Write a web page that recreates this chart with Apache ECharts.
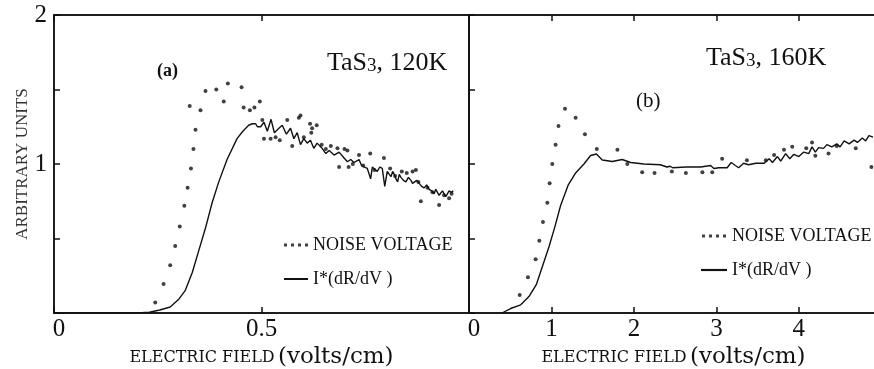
<!DOCTYPE html>
<html>
<head>
<meta charset="utf-8">
<script src="https://cdn.jsdelivr.net/npm/echarts@6/dist/echarts.min.js"></script>
<style>
  html, body { margin: 0; padding: 0; background: #fff; }
  #chart { width: 874px; height: 369px; }
</style>
</head>
<body>
<div id="chart"></div>
<script>
// panel (a): TaS3 at 120K, field in volts/cm
const lineA = [
  [0, 0], [0.2, 0], [0.23, 0.005], [0.255, 0.02], [0.28, 0.04], [0.30, 0.09], [0.316, 0.15],
  [0.333, 0.27], [0.349, 0.42], [0.365, 0.57], [0.381, 0.74], [0.397, 0.88], [0.417, 1.03],
  [0.441, 1.17], [0.455, 1.22], [0.469, 1.26], [0.478, 1.27], [0.486, 1.27], [0.49, 1.25],
  [0.498, 1.25], [0.506, 1.28], [0.514, 1.22], [0.523, 1.30], [0.531, 1.21], [0.542, 1.24],
  [0.55, 1.26], [0.56, 1.20], [0.57, 1.24], [0.578, 1.17], [0.586, 1.21], [0.594, 1.13],
  [0.602, 1.17], [0.61, 1.14], [0.618, 1.16], [0.626, 1.105], [0.634, 1.14], [0.646, 1.105],
  [0.655, 1.07], [0.663, 1.09], [0.675, 1.06], [0.687, 1.08], [0.699, 1.04], [0.707, 1.015],
  [0.715, 1.03], [0.723, 1.01], [0.735, 1.03], [0.741, 0.99], [0.747, 0.98], [0.755, 0.97],
  [0.763, 0.90], [0.767, 0.98], [0.771, 0.99], [0.779, 0.95], [0.785, 0.98], [0.791, 0.97],
  [0.797, 0.85], [0.803, 0.95], [0.808, 0.93], [0.812, 0.915], [0.816, 0.95], [0.82, 0.93],
  [0.824, 0.90], [0.828, 0.88], [0.832, 0.93], [0.836, 0.91], [0.842, 0.89], [0.848, 0.88],
  [0.854, 0.91], [0.86, 0.89], [0.864, 0.87], [0.868, 0.86], [0.874, 0.89], [0.88, 0.87],
  [0.886, 0.85], [0.892, 0.84], [0.898, 0.86], [0.904, 0.83], [0.91, 0.82], [0.916, 0.80],
  [0.92, 0.83], [0.924, 0.82], [0.928, 0.79], [0.932, 0.79], [0.936, 0.82], [0.94, 0.81],
  [0.944, 0.78], [0.948, 0.79], [0.952, 0.82], [0.957, 0.81], [0.962, 0.82]
];
const noiseA = [
  [0.244, 0.07], [0.264, 0.195], [0.28, 0.32], [0.292, 0.45], [0.303, 0.58], [0.314, 0.72],
  [0.322, 0.84], [0.33, 0.97], [0.336, 1.10], [0.341, 1.23], [0.327, 1.39], [0.353, 1.36],
  [0.365, 1.49], [0.391, 1.50], [0.409, 1.42], [0.419, 1.54], [0.452, 1.515], [0.457, 1.38],
  [0.472, 1.36], [0.483, 1.38], [0.496, 1.42], [0.502, 1.295], [0.506, 1.17], [0.522, 1.17],
  [0.534, 1.18], [0.544, 1.16], [0.562, 1.295], [0.574, 1.12], [0.59, 1.31], [0.594, 1.325],
  [0.602, 1.18], [0.617, 1.27], [0.62, 1.21], [0.622, 1.24], [0.633, 1.26], [0.645, 1.13],
  [0.655, 1.10], [0.667, 1.12], [0.683, 1.105], [0.687, 0.98], [0.7, 1.10], [0.707, 1.09],
  [0.71, 0.98], [0.72, 1.0], [0.735, 1.06], [0.745, 0.99], [0.762, 1.07], [0.772, 0.96],
  [0.795, 1.04], [0.81, 0.97], [0.822, 0.92], [0.838, 0.95], [0.85, 0.94], [0.864, 0.95],
  [0.872, 0.96], [0.878, 0.88], [0.884, 0.75], [0.9, 0.84], [0.912, 0.81], [0.928, 0.725],
  [0.94, 0.79], [0.952, 0.77], [0.958, 0.8]
];

// panel (b): TaS3 at 160K
const lineB = [
  [0.4, 0], [0.424, 0.01], [0.505, 0.03], [0.627, 0.055], [0.727, 0.11], [0.816, 0.19],
  [0.889, 0.31], [0.97, 0.445], [1.042, 0.58], [1.11, 0.72], [1.204, 0.86], [1.293, 0.94],
  [1.394, 1.0], [1.475, 1.057], [1.545, 1.067], [1.616, 1.027], [1.737, 1.017], [1.858, 1.03],
  [1.96, 1.01], [2.12, 1.0], [2.32, 0.995], [2.40, 0.98], [2.44, 0.985], [2.47, 0.975],
  [2.63, 0.98], [2.81, 0.98], [2.93, 0.99], [2.97, 0.97], [3.03, 0.975], [3.13, 0.975],
  [3.18, 1.01], [3.23, 0.99], [3.27, 0.975], [3.33, 1.005], [3.39, 0.995], [3.48, 1.005],
  [3.58, 1.005], [3.64, 1.035], [3.68, 1.01], [3.74, 1.05], [3.78, 1.02], [3.84, 1.07],
  [3.89, 1.035], [3.94, 1.065], [4.0, 1.05], [4.06, 1.08], [4.12, 1.07], [4.16, 1.115],
  [4.2, 1.08], [4.24, 1.11], [4.30, 1.105], [4.34, 1.13], [4.40, 1.115], [4.46, 1.135],
  [4.50, 1.115], [4.55, 1.155], [4.61, 1.135], [4.67, 1.16], [4.71, 1.145], [4.77, 1.175],
  [4.81, 1.155], [4.85, 1.19], [4.9, 1.18]
];
const noiseB = [
  [0.615, 0.12], [0.715, 0.24], [0.808, 0.36], [0.853, 0.485], [0.897, 0.61], [0.95, 0.74],
  [0.978, 0.87], [1.01, 1.0], [1.05, 1.13], [1.085, 1.255], [1.164, 1.37], [1.293, 1.31],
  [1.406, 1.20], [1.55, 1.10], [1.8, 1.095], [1.92, 1.0], [2.1, 0.945], [2.25, 0.94],
  [2.46, 0.95], [2.63, 0.94], [2.83, 0.945], [2.95, 0.945], [3.07, 1.035], [3.37, 1.025],
  [3.6, 1.025], [3.70, 1.06], [3.82, 1.095], [3.92, 1.115], [4.09, 1.105], [4.16, 1.145],
  [4.2, 1.055], [4.36, 1.07], [4.46, 1.12], [4.69, 1.105], [4.88, 0.98]
];

const NOISE = 'NOISE VOLTAGE';
const DERIV = 'I*(dR/dV )';

const serif = 'Liberation Serif';
const wide = 'DejaVu Serif';
const ink = '#111';
const axisLine = { show: true, onZero: false, lineStyle: { color: ink, width: 1.5 } };
const tickIn = { show: true, inside: true, length: 6, lineStyle: { color: ink, width: 1.5 } };
const dotsIcon = 'path://M0,0h3v3h-3zM7,0h3v3h-3zM14,0h3v3h-3zM21,0h3v3h-3z';
const lineIcon = 'path://M0,0h24v2h-24z';

const xName = {
  name: '{a|ELECTRIC FIELD} {b|(volts/cm)}',
  nameLocation: 'middle',
  nameGap: 33,
  nameMoveOverlap: false,
  nameTextStyle: {
    rich: {
      a: { fontFamily: wide, fontSize: 16, color: ink },
      b: { fontFamily: wide, fontSize: 23, color: ink }
    }
  }
};

function bottomX(grid, max, interval, fmt) {
  return Object.assign({
    type: 'value', gridIndex: grid, position: 'bottom', min: 0, max: max, interval: interval,
    axisLine: axisLine, axisTick: tickIn, splitLine: { show: false },
    axisLabel: {
      fontFamily: serif, fontSize: 25, color: ink, margin: 4, formatter: fmt,
      rich: { z: { fontFamily: serif, fontSize: 25, color: ink, padding: [0, 0, 0, 10] } }
    }
  }, xName);
}

function topX(grid, max, interval) {
  return {
    type: 'value', gridIndex: grid, position: 'top', min: 0, max: max, interval: interval,
    axisLine: axisLine, axisTick: tickIn, axisLabel: { show: false }, splitLine: { show: false }
  };
}

function leftY(grid, labels) {
  return {
    type: 'value', gridIndex: grid, min: 0, max: 2, interval: 0.5,
    axisLine: axisLine, axisTick: tickIn, splitLine: { show: false },
    name: labels ? 'ARBITRARY UNITS' : '',
    nameLocation: 'middle', nameGap: 23,
    nameTextStyle: { fontFamily: serif, fontSize: 17, color: '#333' },
    axisLabel: {
      show: labels, fontFamily: serif, fontSize: 25, color: ink, margin: 7,
      formatter: v => (v === 1 || v === 2) ? String(v) : ''
    }
  };
}

const tasStyle = {
  rich: {
    t: { fontFamily: serif, fontSize: 26, fontWeight: 'normal', color: ink },
    s: { fontFamily: serif, fontSize: 19, fontWeight: 'normal', color: ink, verticalAlign: 'bottom' }
  }
};

const frame = { show: true, borderColor: ink, borderWidth: 1.5, backgroundColor: 'transparent', outerBoundsMode: 'none' };

const chart = echarts.init(document.getElementById('chart'));

chart.setOption({
  backgroundColor: '#fff',
  animation: false,
  grid: [
    Object.assign({ left: 54, top: 15, width: 415, height: 298 }, frame),
    Object.assign({ left: 469, top: 15, right: -4, height: 298 }, frame)
  ],
  xAxis: [
    bottomX(0, 1, 0.5, v => v === 0 ? '{z|0}' : (v === 0.5 ? '0.5' : '')),
    topX(0, 1, 0.5),
    bottomX(1, 4.96, 1, v => v === 0 ? '{z|0}' : (Number.isInteger(v) ? String(v) : '')),
    topX(1, 4.96, 1)
  ],
  yAxis: [leftY(0, true), leftY(1, false)],
  title: [
    { text: '{t|TaS}{s|3}{t|, 120K}', left: 322, top: 45, textStyle: tasStyle },
    { text: '{t|TaS}{s|3}{t|, 160K}', left: 701, top: 40, textStyle: tasStyle },
    { text: '(a)', left: 152, top: 57, textStyle: { fontFamily: serif, fontSize: 18, fontWeight: 'bold', color: ink } },
    { text: '(b)', left: 631, top: 86, textStyle: { fontFamily: serif, fontSize: 21, fontWeight: 'normal', color: ink } }
  ],
  legend: [
    {
      left: 279, top: 231, orient: 'vertical', itemGap: 16, itemWidth: 24, itemHeight: 3,
      selectedMode: false, textStyle: { fontFamily: serif, fontSize: 18, color: ink },
      data: [{ name: NOISE, icon: dotsIcon }, { name: DERIV, icon: lineIcon }]
    },
    {
      left: 696, top: 222, orient: 'vertical', itemGap: 16, itemWidth: 26, itemHeight: 3,
      selectedMode: false, textStyle: { fontFamily: serif, fontSize: 18, color: ink },
      data: [{ name: NOISE, icon: dotsIcon }, { name: DERIV, icon: lineIcon }]
    }
  ],
  series: [
    {
      name: DERIV, type: 'line', xAxisIndex: 0, yAxisIndex: 0, data: lineA,
      showSymbol: false, color: ink, lineStyle: { color: ink, width: 1.4 }
    },
    {
      name: NOISE, type: 'scatter', xAxisIndex: 0, yAxisIndex: 0, data: noiseA,
      symbolSize: 4, color: ink, itemStyle: { color: ink }
    },
    {
      name: DERIV, type: 'line', xAxisIndex: 2, yAxisIndex: 1, data: lineB,
      showSymbol: false, color: ink, lineStyle: { color: ink, width: 1.4 }
    },
    {
      name: NOISE, type: 'scatter', xAxisIndex: 2, yAxisIndex: 1, data: noiseB,
      symbolSize: 4, color: ink, itemStyle: { color: ink }
    }
  ]
});
</script>
</body>
</html>
